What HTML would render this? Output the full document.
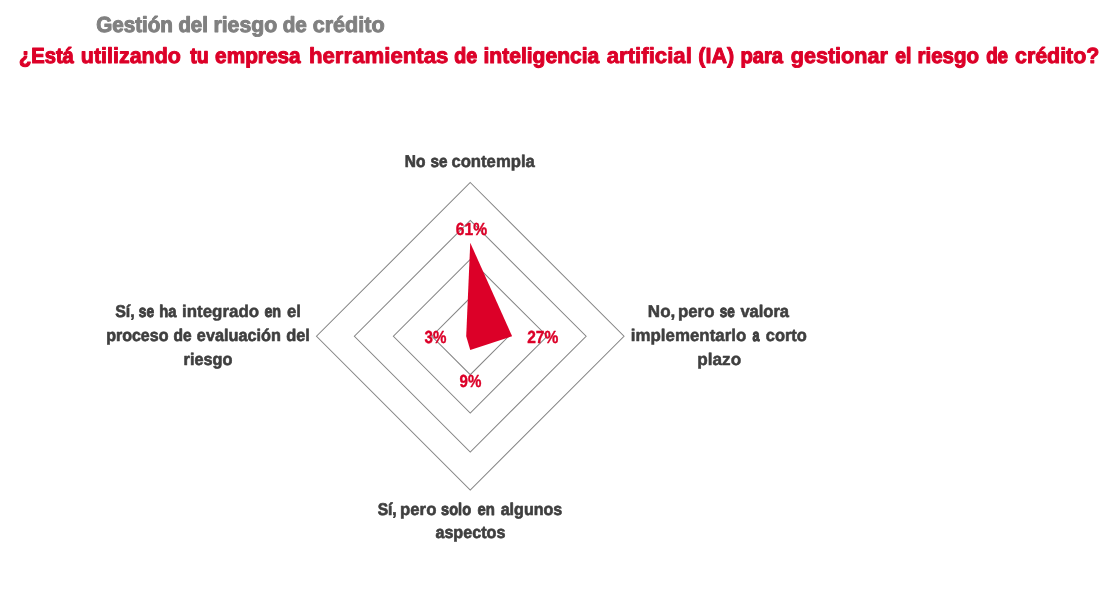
<!DOCTYPE html>
<html lang="es"><head><meta charset="utf-8"><title>Gestión del riesgo de crédito</title>
<style>html,body{margin:0;padding:0;background:#fff}svg{display:block}text{font-family:"Liberation Sans",sans-serif;font-weight:bold;text-rendering:geometricPrecision;stroke-linejoin:round}</style></head><body>
<svg width="1112" height="596" viewBox="0 0 1112 596">
<rect width="1112" height="596" fill="#fff"/>
<g fill="none" stroke="#858585" stroke-width="1.05">
<polygon points="470.25,297.85 508.65,336.25 470.25,374.65 431.85,336.25"/>
<polygon points="470.25,259.40 547.10,336.25 470.25,413.10 393.40,336.25"/>
<polygon points="470.25,220.40 586.10,336.25 470.25,452.10 354.40,336.25"/>
<polygon points="470.25,182.50 624.00,336.25 470.25,490.00 316.50,336.25"/>
</g>
<polygon fill="#dc0028" points="470.25,242.80 512.10,336.25 470.25,349.95 466.20,336.25"/>
<text y="32" font-size="21.8" fill="#808080" stroke="#808080" stroke-width="1.05"><tspan x="96.13" textLength="76.83" lengthAdjust="spacingAndGlyphs" stroke-width="1.07">Gestión</tspan> <tspan x="178.39" textLength="29.48" lengthAdjust="spacingAndGlyphs" stroke-width="1.10">del</tspan> <tspan x="213.45" textLength="63.73" lengthAdjust="spacingAndGlyphs" stroke-width="0.99">riesgo</tspan> <tspan x="282.73" textLength="24.16" lengthAdjust="spacingAndGlyphs">de</tspan> <tspan x="312.65" textLength="72.00" lengthAdjust="spacingAndGlyphs" stroke-width="0.94">crédito</tspan></text>
<text y="63" font-size="21.8" fill="#dc0028" stroke="#dc0028" stroke-width="1.05"><tspan x="18.92" textLength="54.90" lengthAdjust="spacingAndGlyphs" stroke-width="1.14">¿Está</tspan> <tspan x="80.86" textLength="99.98" lengthAdjust="spacingAndGlyphs" stroke-width="0.96">utilizando</tspan> <tspan x="190.27" textLength="18.40" lengthAdjust="spacingAndGlyphs" stroke-width="1.23">tu</tspan> <tspan x="215.12" textLength="85.51" lengthAdjust="spacingAndGlyphs">empresa</tspan> <tspan x="308.93" textLength="139.51" lengthAdjust="spacingAndGlyphs" stroke-width="0.86">herramientas</tspan> <tspan x="454.27" textLength="22.92" lengthAdjust="spacingAndGlyphs" stroke-width="1.21">de</tspan> <tspan x="483.47" textLength="115.83" lengthAdjust="spacingAndGlyphs" stroke-width="1.02">inteligencia</tspan> <tspan x="606.70" textLength="85.20" lengthAdjust="spacingAndGlyphs" stroke-width="0.86">artificial</tspan> <tspan x="698.19" textLength="36.06" lengthAdjust="spacingAndGlyphs" stroke-width="0.94">(IA)</tspan> <tspan x="740.52" textLength="42.52" lengthAdjust="spacingAndGlyphs" stroke-width="1.14">para</tspan> <tspan x="790.73" textLength="97.19" lengthAdjust="spacingAndGlyphs" stroke-width="0.94">gestionar</tspan> <tspan x="895.28" textLength="16.07" lengthAdjust="spacingAndGlyphs" stroke-width="1.26">el</tspan> <tspan x="917.52" textLength="61.47" lengthAdjust="spacingAndGlyphs" stroke-width="1.09">riesgo</tspan> <tspan x="986.17" textLength="21.88" lengthAdjust="spacingAndGlyphs" stroke-width="1.30">de</tspan> <tspan x="1015.03" textLength="84.31" lengthAdjust="spacingAndGlyphs" stroke-width="0.97">crédito?</tspan></text>
<text y="167" font-size="17" fill="#3f3f3f" stroke="#3f3f3f" stroke-width="0.6"><tspan x="404.75" textLength="20.57" lengthAdjust="spacingAndGlyphs" stroke-width="0.74">No</tspan> <tspan x="430.56" textLength="16.99" lengthAdjust="spacingAndGlyphs" stroke-width="0.76">se</tspan> <tspan x="451.41" textLength="83.44" lengthAdjust="spacingAndGlyphs" stroke-width="0.56">contempla</tspan></text>
<text y="317" font-size="17" fill="#3f3f3f" stroke="#3f3f3f" stroke-width="0.6"><tspan x="647.87" textLength="27.40" lengthAdjust="spacingAndGlyphs" stroke-width="0.52">No,</tspan> <tspan x="677.90" textLength="36.60" lengthAdjust="spacingAndGlyphs" stroke-width="0.54">pero</tspan> <tspan x="719.68" textLength="15.11" lengthAdjust="spacingAndGlyphs" stroke-width="0.99">se</tspan> <tspan x="740.39" textLength="48.67" lengthAdjust="spacingAndGlyphs">valora</tspan></text>
<text y="341" font-size="17" fill="#3f3f3f" stroke="#3f3f3f" stroke-width="0.6"><tspan x="630.83" textLength="115.40" lengthAdjust="spacingAndGlyphs" stroke-width="0.54">implementarlo</tspan> <tspan x="752.53" textLength="6.97" lengthAdjust="spacingAndGlyphs" stroke-width="1.14">a</tspan> <tspan x="765.77" textLength="41.10" lengthAdjust="spacingAndGlyphs">corto</tspan></text>
<text y="365" font-size="17" fill="#3f3f3f" stroke="#3f3f3f" stroke-width="0.6"><tspan x="697.34" textLength="43.85" lengthAdjust="spacingAndGlyphs" stroke-width="0.50">plazo</tspan></text>
<text y="317" font-size="17" fill="#3f3f3f" stroke="#3f3f3f" stroke-width="0.6"><tspan x="115.13" textLength="19.54" lengthAdjust="spacingAndGlyphs" stroke-width="0.66">Sí,</tspan> <tspan x="138.78" textLength="15.32" lengthAdjust="spacingAndGlyphs" stroke-width="0.96">se</tspan> <tspan x="159.18" textLength="17.20" lengthAdjust="spacingAndGlyphs" stroke-width="0.83">ha</tspan> <tspan x="181.99" textLength="77.07" lengthAdjust="spacingAndGlyphs" stroke-width="0.53">integrado</tspan> <tspan x="264.41" textLength="16.71" lengthAdjust="spacingAndGlyphs" stroke-width="0.89">en</tspan> <tspan x="286.96" textLength="14.03" lengthAdjust="spacingAndGlyphs" stroke-width="0.55">el</tspan></text>
<text y="341" font-size="17" fill="#3f3f3f" stroke="#3f3f3f" stroke-width="0.6"><tspan x="106.13" textLength="62.30" lengthAdjust="spacingAndGlyphs" stroke-width="0.66">proceso</tspan> <tspan x="173.53" textLength="18.10" lengthAdjust="spacingAndGlyphs" stroke-width="0.73">de</tspan> <tspan x="196.87" textLength="84.00" lengthAdjust="spacingAndGlyphs" stroke-width="0.62">evaluación</tspan> <tspan x="286.17" textLength="23.76" lengthAdjust="spacingAndGlyphs">del</tspan></text>
<text y="365" font-size="17" fill="#3f3f3f" stroke="#3f3f3f" stroke-width="0.6"><tspan x="183.60" textLength="48.78" lengthAdjust="spacingAndGlyphs" stroke-width="0.62">riesgo</tspan></text>
<text y="515" font-size="17" fill="#3f3f3f" stroke="#3f3f3f" stroke-width="0.6"><tspan x="377.66" textLength="19.01" lengthAdjust="spacingAndGlyphs" stroke-width="0.72">Sí,</tspan> <tspan x="400.02" textLength="36.39" lengthAdjust="spacingAndGlyphs" stroke-width="0.55">pero</tspan> <tspan x="441.08" textLength="29.98" lengthAdjust="spacingAndGlyphs" stroke-width="0.85">solo</tspan> <tspan x="477.40" textLength="17.39" lengthAdjust="spacingAndGlyphs" stroke-width="0.81">en</tspan> <tspan x="500.68" textLength="61.60" lengthAdjust="spacingAndGlyphs" stroke-width="0.65">algunos</tspan></text>
<text y="538" font-size="17" fill="#3f3f3f" stroke="#3f3f3f" stroke-width="0.6"><tspan x="435.43" textLength="69.95" lengthAdjust="spacingAndGlyphs" stroke-width="0.64">aspectos</tspan></text>
<text y="235" font-size="17.5" fill="#dc0028" stroke="#dc0028" stroke-width="0.4"><tspan x="455.84" textLength="31.29" lengthAdjust="spacingAndGlyphs">61%</tspan></text>
<text y="343" font-size="17.5" fill="#dc0028" stroke="#dc0028" stroke-width="0.4"><tspan x="527.14" textLength="31.12" lengthAdjust="spacingAndGlyphs">27%</tspan></text>
<text y="387" font-size="17.5" fill="#dc0028" stroke="#dc0028" stroke-width="0.4"><tspan x="459.57" textLength="21.81" lengthAdjust="spacingAndGlyphs">9%</tspan></text>
<text y="343" font-size="17.5" fill="#dc0028" stroke="#dc0028" stroke-width="0.4"><tspan x="424.53" textLength="21.84" lengthAdjust="spacingAndGlyphs">3%</tspan></text>
</svg></body></html>
